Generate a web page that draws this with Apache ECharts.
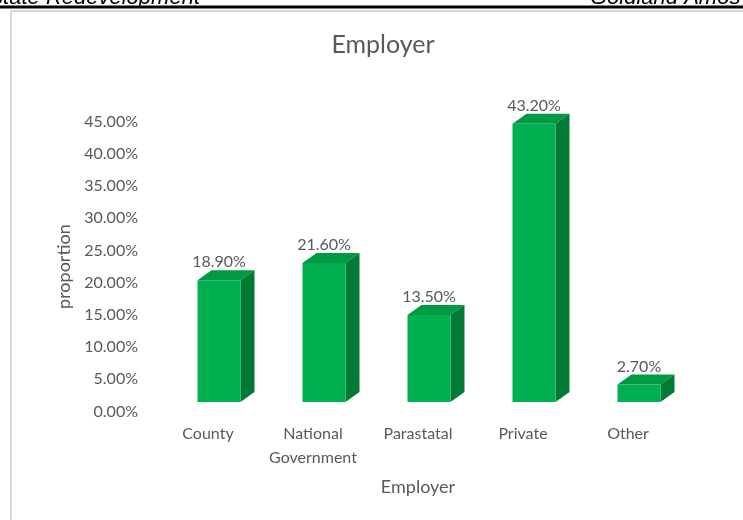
<!DOCTYPE html>
<html>
<head>
<meta charset="utf-8">
<script src="https://cdn.jsdelivr.net/npm/echarts@6/dist/echarts.min.js"></script>
<style>
  html, body { margin: 0; padding: 0; background: #fff; }
  #chart { width: 743px; height: 520px; }
</style>
</head>
<body>
<div id="chart"></div>
<script>
// 数据
var categories = ['County', 'National\nGovernment', 'Parastatal', 'Private', 'Other'];
var values = [18.9, 21.6, 13.5, 43.2, 2.7];
var yMin = 0, yMax = 45, yStep = 5;

var textGrey = '#595959';
var font = 'Lato, "Open Sans", sans-serif';
var headFont = '"Liberation Sans", Arial, sans-serif';

// 3D柱子: 正面 + 顶面 + 侧面
function renderBar(params, api) {
  var v = api.value(1);
  var base = api.coord([api.value(0), 0]);
  var top = api.coord([api.value(0), v]);
  var cx = base[0] + 11;
  var w = 43, dx = 14, dy = 10;
  var x0 = cx - w / 2, x1 = cx + w / 2;
  var yb = base[1] - 9.5;
  var yt = yb - (base[1] - top[1]);
  return {
    type: 'group',
    children: [
      { type: 'polygon', shape: { points: [[x0, yt], [x1, yt], [x1 + dx, yt - dy], [x0 + dx, yt - dy]] },
        style: { fill: '#009a44' } },
      { type: 'polygon', shape: { points: [[x1, yt], [x1 + dx, yt - dy], [x1 + dx, yb - dy], [x1, yb]] },
        style: { fill: '#007a35' } },
      { type: 'rect', shape: { x: x0, y: yt, width: w, height: yb - yt },
        style: { fill: '#00b050' } },
      { type: 'text', style: { text: v.toFixed(2) + '%', x: cx, y: yt - 18, align: 'center', verticalAlign: 'middle',
        fill: textGrey, fontSize: 16, fontFamily: font } }
    ]
  };
}

var chart = echarts.init(document.getElementById('chart'));
var option = {
  animation: false,
  backgroundColor: '#fff',
  graphic: [
    // 页眉 (被裁掉的部分)
    { type: 'text', x: 200, y: 9, style: { text: 'Estate Redevelopment', align: 'right', verticalAlign: 'bottom',
      fill: '#000', fontSize: 22, fontStyle: 'italic', fontFamily: headFont } },
    { type: 'text', x: 590, y: 9, style: { text: 'Goldland Amos', align: 'left', verticalAlign: 'bottom',
      fill: '#000', fontSize: 22, fontStyle: 'italic', fontFamily: headFont } },
    { type: 'rect', shape: { x: 0, y: 5.5, width: 743, height: 20 }, style: { fill: '#fff' } },
    { type: 'line', shape: { x1: 0, y1: 7, x2: 743, y2: 7 }, style: { stroke: '#000', lineWidth: 3 } },
    { type: 'rect', shape: { x: 11, y: 11, width: 800, height: 600 }, style: { fill: null, stroke: '#d9d9d9', lineWidth: 2 } },
    { type: 'text', x: 383, y: 45, style: { text: 'Employer', align: 'center', verticalAlign: 'middle',
      fill: textGrey, fontSize: 25, fontFamily: font } }
  ],
  grid: { left: 155.5, right: 62.5, top: 121.7, bottom: 108.5 },
  xAxis: {
    type: 'category',
    data: categories,
    name: 'Employer',
    nameLocation: 'middle',
    nameGap: 67,
    nameTextStyle: { color: textGrey, fontSize: 18, fontFamily: font },
    axisLine: { show: false },
    axisTick: { show: false },
    axisLabel: { interval: 0, margin: 10.5, color: textGrey, fontSize: 16, lineHeight: 24, fontFamily: font }
  },
  yAxis: {
    type: 'value',
    min: yMin,
    max: yMax,
    interval: yStep,
    name: 'proportion',
    nameLocation: 'middle',
    nameRotate: 90,
    nameGap: 81,
    nameTextStyle: { color: textGrey, fontSize: 18, fontFamily: font },
    axisLine: { show: false },
    axisTick: { show: false },
    splitLine: { show: false },
    axisLabel: { margin: 17.5, color: textGrey, fontSize: 16, fontFamily: font,
      formatter: function (v) { return v.toFixed(2) + '%'; } }
  },
  series: [{
    type: 'custom',
    renderItem: renderBar,
    encode: { x: 0, y: 1 },
    data: values.map(function (v, i) { return [i, v]; })
  }]
};
chart.setOption(option);
</script>
</body>
</html>
